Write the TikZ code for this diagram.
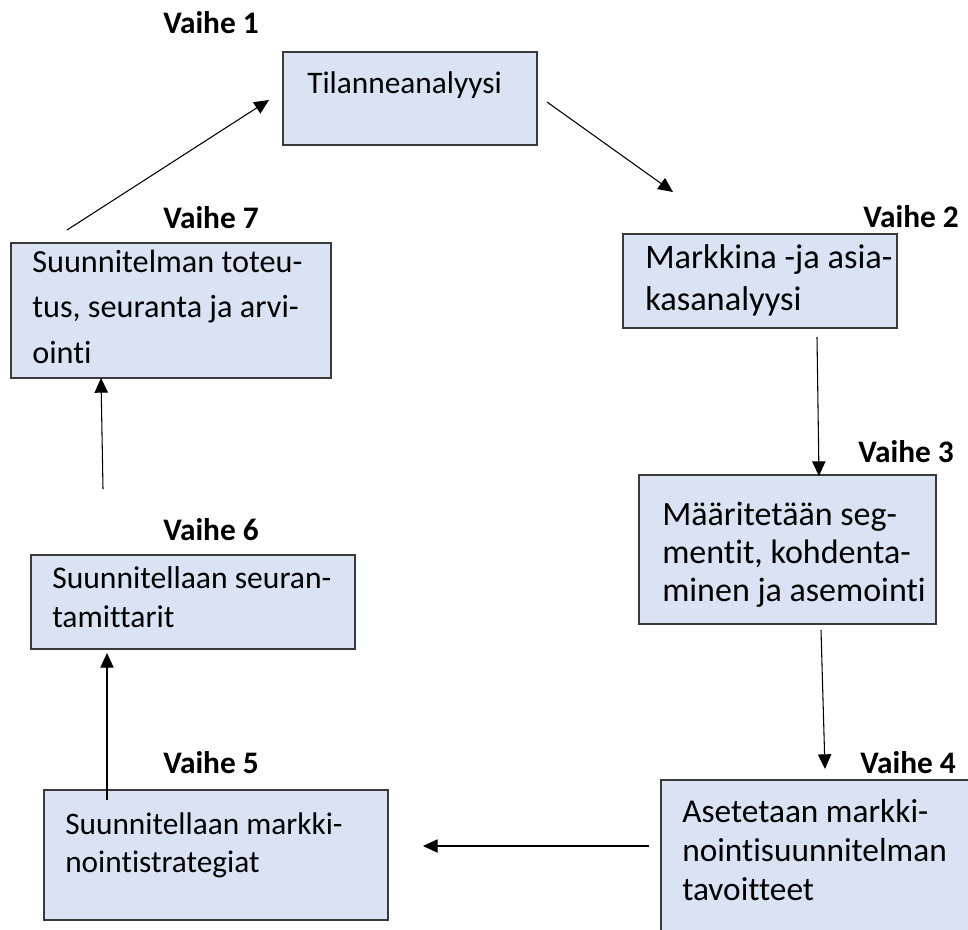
\documentclass[tikz,border=0pt]{standalone}
\usepackage{fontspec}
\setmainfont{Carlito}[Ligatures={NoCommon}]
\usetikzlibrary{fit,arrows.meta}
\definecolor{boxfill}{HTML}{DAE3F3}
\definecolor{boxline}{HTML}{3A3A3A}
\tikzset{
  box/.style={draw=boxline, fill=boxfill, line width=1pt, inner sep=0pt},
  txt/.style 2 args={inner sep=0pt, anchor=base west, align=left, font=\fontsize{#1}{#2}\selectfont},
  phase/.style={inner sep=0pt, anchor=base west, font=\fontsize{23.5}{28}\selectfont\bfseries},
  conn/.style={draw=black, line width=0.8pt, -{Triangle[length=11pt,width=10pt]}}
}
\begin{document}
\begin{tikzpicture}[x=0.75pt,y=-0.75pt]
\clip (0,0) rectangle (968,929);
\fill[white] (0,0) rectangle (968,929);
% boxes
\node[box, fit={(283,52) (537,145)}] (b1) {};
\node[box, fit={(623,234) (897,328)}] (b2) {};
\node[box, fit={(639,475) (936,624)}] (b3) {};
\node[box, fit={(661,780) (980,945)}] (b4) {};
\node[box, fit={(44,790) (388,920)}] (b5) {};
\node[box, fit={(31,555) (355,649)}] (b6) {};
\node[box, fit={(11,243) (331,378)}] (b7) {};
% texts (anchored at the baseline of the last line)
\node[txt={23.5}{30}] (t1) at (307,93) {Tilanneanalyysi};
\node[txt={25.8}{31.5}] (t2) at (645,310) {Markkina -ja asia-\\kasanalyysi};
\node[txt={25.5}{28.5}] (t3) at (662,601) {Määritetään seg-\\mentit, kohdenta-\\minen ja asemointi};
\node[txt={25}{29}] (t4) at (682,900) {Asetetaan markki-\\nointisuunnitelman\\tavoitteet};
\node[txt={23.5}{28}] (t5) at (65,872) {Suunnitellaan markki-\\nointistrategiat};
\node[txt={23.7}{29}] (t6) at (52,627) {Suunnitellaan seuran-\\tamittarit};
\node[txt={24.2}{34}] (t7) at (32,363) {Suunnitelman toteu-\\tus, seuranta ja arvi-\\ointi};
% phase labels
\node[phase] (v1) at (163,33) {Vaihe 1};
\node[phase] (v2) at (863,227) {Vaihe 2};
\node[phase] (v3) at (858,462) {Vaihe 3};
\node[phase] (v4) at (860,773) {Vaihe 4};
\node[phase] (v5) at (163,773) {Vaihe 5};
\node[phase] (v6) at (163,540) {Vaihe 6};
\node[phase] (v7) at (163,228) {Vaihe 7};
% connector end points
\coordinate (a1s) at (547,102); \coordinate (a1e) at (673,192);
\coordinate (a2s) at (817,337); \coordinate (a2e) at (819,476);
\coordinate (a3s) at (821,630); \coordinate (a3e) at (825,769);
\coordinate (a4s) at (649,846); \coordinate (a4e) at (423,846);
\coordinate (a5s) at (107,800); \coordinate (a5e) at (107,653);
\coordinate (a6s) at (103,489); \coordinate (a6e) at (101,378);
\coordinate (a7s) at (67,230);  \coordinate (a7e) at (269,100);
\draw[conn] (a1s) -- (a1e);
\draw[conn] (a2s) -- (a2e);
\draw[conn] (a3s) -- (a3e);
\draw[conn] (a4s) -- (a4e);
\draw[conn] (a5s) -- (a5e);
\draw[conn] (a6s) -- (a6e);
\draw[conn] (a7s) -- (a7e);
\end{tikzpicture}
\end{document}
